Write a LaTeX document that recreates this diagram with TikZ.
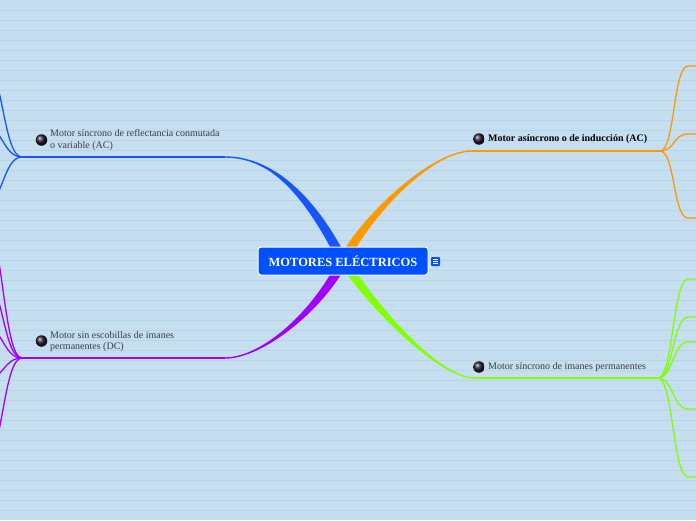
\documentclass[tikz,border=0pt]{standalone}
\usepackage{fontspec}
\setmainfont{Liberation Serif}
\usetikzlibrary{calc}
\definecolor{bgc}{RGB}{197,223,240}
\definecolor{bgl}{RGB}{184,212,233}
\definecolor{boxblue}{RGB}{0,80,255}
\definecolor{cblue}{RGB}{25,85,255}
\definecolor{corange}{RGB}{255,153,0}
\definecolor{cgreen}{RGB}{130,255,0}
\definecolor{cpurple}{RGB}{160,0,255}
\definecolor{txt}{RGB}{60,60,60}
\definecolor{balldark}{RGB}{35,30,48}
\tikzset{
  bgline/.style={draw=bgl, line width=0.7pt},
  thin/.style={line width=1.3pt},
  bullet/.style={circle, minimum size=11.5pt, inner sep=0pt, shading=ball, ball color=balldark},
  topic/.style={anchor=west, inner sep=0pt, font=\fontsize{10}{11.7}\selectfont, align=left, text=txt},
  root/.style={fill=boxblue, draw=white, line width=1pt, rounded corners=3pt, minimum width=170pt, minimum height=28pt, inner sep=0pt, text=white, font=\fontsize{12.5}{14}\selectfont\bfseries},
  noteicon/.style={fill=boxblue, rounded corners=1pt, minimum size=9pt, inner sep=0pt},
  edgedot/.style={circle, minimum size=9pt, inner sep=0pt}
}
\newcommand\taperbranch[7]{% color, start, c1, c2, end, xoff, yoff
  \fill[#1] ([xshift=#6]#2) .. controls ([xshift=#6]#3) and ([yshift=#7]#4) .. ([yshift=#7]#5)
     -- ([yshift=-#7]#5) .. controls ([yshift=-#7]#4) and ([xshift=-#6]#3) .. ([xshift=-#6]#2) -- cycle;}
\begin{document}
\begin{tikzpicture}[x=1pt,y=-1pt]
\fill[bgc] (0,0) rectangle (696,520);
\useasboundingbox (0,0) rectangle (696,520);
\foreach \k in {1,...,51} \draw[bgline] (0,10*\k) -- (696,10*\k);

% coordinates
\coordinate (C) at (343,261);
\coordinate (b1) at (305,186); \coordinate (b2) at (266,157); \coordinate (bE) at (225,157); \coordinate (bS) at (22,157);
\coordinate (o1) at (365,218); \coordinate (o2) at (430,151); \coordinate (oE) at (472,151); \coordinate (oS) at (660,151);
\coordinate (g1) at (370,302); \coordinate (g2) at (437,378); \coordinate (gE) at (475,378); \coordinate (gS) at (658,378);
\coordinate (p1) at (320,308); \coordinate (p2) at (264,358); \coordinate (pE) at (225,358); \coordinate (pS) at (22,358);

% main tapered branches
\taperbranch{cblue}{C}{b1}{b2}{bE}{-5.5pt}{-0.7pt}
\taperbranch{corange}{C}{o1}{o2}{oE}{5.5pt}{-0.7pt}
\taperbranch{cgreen}{C}{g1}{g2}{gE}{-5.5pt}{-0.7pt}
\taperbranch{cpurple}{C}{p1}{p2}{pE}{5.5pt}{-0.7pt}

\draw[cblue, thin] (bE) -- (bS);
\draw[corange, thin] (oE) -- (oS);
\draw[cgreen, thin] (gE) -- (gS);
\draw[cpurple, thin] (pE) -- (pS);

% children on the left (blue)
\coordinate (bc1) at (-16,64);
\coordinate (bc2) at (-16,126);
\coordinate (bc3) at (-16,205);
\foreach \c in {bc1,bc2,bc3}
  \draw[cblue, thin] (bS) .. controls +(-19,0) and +(19,0) .. (\c);

% children on the left (purple)
\coordinate (pc1) at (-16,222);
\coordinate (pc2) at (-16,279);
\coordinate (pc3) at (-16,326);
\coordinate (pc4) at (-16,381);
\coordinate (pc5) at (-16,461);
\foreach \c in {pc1,pc2,pc3,pc4,pc5}
  \draw[cpurple, thin] (pS) .. controls +(-19,0) and +(19,0) .. (\c);

% children on the right (orange)
\coordinate (oc1) at (688,66);
\coordinate (oc2) at (688,134);
\coordinate (oc3) at (688,218);
\foreach \c in {oc1,oc2,oc3}
  \draw[corange, thin] (oS) .. controls +(15,0) and +(-15,0) .. (\c) -- ++(20,0);

% children on the right (green)
\coordinate (gc1) at (688,279);
\coordinate (gc2) at (688,317);
\coordinate (gc3) at (688,342);
\coordinate (gc4) at (688,409);
\coordinate (gc5) at (688,477);
\foreach \c in {gc1,gc2,gc3,gc4,gc5}
  \draw[cgreen, thin] (gS) .. controls +(15,0) and +(-15,0) .. (\c) -- ++(20,0);

% partly visible bullets at the right edge
\node[edgedot, fill={rgb,255:red,110;green,185;blue,230}] (d1) at (701,267) {};
\node[edgedot, fill={rgb,255:red,110;green,185;blue,230}] (d2) at (701,301) {};
\node[edgedot, fill={rgb,255:red,110;green,185;blue,230}] (d3) at (701,332) {};
\node[edgedot, fill={rgb,255:red,110;green,200;blue,140}] (d4) at (701,399) {};
\node[edgedot, fill={rgb,255:red,215;green,150;blue,170}] (d5) at (701,468) {};

% central node
\node[root] (root) at (C) {MOTORES ELÉCTRICOS};
\node[noteicon] (note) at (435.5,261.5) {};
\foreach \dy in {-2.2,0,2.2}
  \draw[white, line width=0.7pt] ([xshift=-2.3pt,yshift=\dy pt]note.center) -- ([xshift=2.3pt,yshift=\dy pt]note.center);

% bullets and topic texts
\node[bullet] (u1) at (479,139) {};
\node[topic, text=black, font=\fontsize{10}{11.7}\selectfont\bfseries] (t1) at (488,139) {Motor asíncrono o de inducción (AC)};
\node[bullet] (u2) at (479,367) {};
\node[topic] (t2) at (488,367) {Motor síncrono de imanes permanentes};
\node[bullet] (u3) at (41.5,140) {};
\node[topic] (t3) at (50,140) {Motor síncrono de reflectancia conmutada\\o variable (AC)};
\node[bullet] (u4) at (41.5,341) {};
\node[topic] (t4) at (50,341.5) {Motor sin escobillas de imanes\\permanentes (DC)};
\end{tikzpicture}
\end{document}
